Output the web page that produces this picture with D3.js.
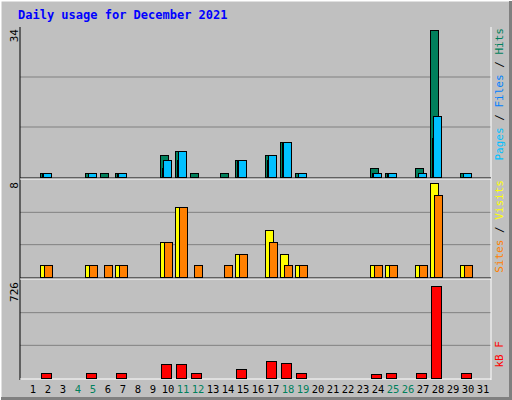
<!DOCTYPE html>
<html><head><meta charset="utf-8">
<script src="https://cdn.jsdelivr.net/npm/d3@7"></script>
<style>body{margin:0;background:#fff}</style>
</head><body><div id="chart"></div>
<script>
// Datos
const days = d3.range(1, 32)
const weekend = [4, 5, 11, 12, 18, 19, 25, 26]
const hits  = [0,1,0,0,1,1,1,0,0,5,6,1,0,1,4,0,5,8,1,0,0,0,0,2,1,0,2,34,0,1,0]
const files = [0,1,0,0,1,0,1,0,0,4,6,0,0,0,4,0,5,8,1,0,0,0,0,1,1,0,1,14,0,1,0]
const pages = [0,1,0,0,0,0,1,0,0,2,4,0,0,0,4,0,4,8,0,0,0,0,0,1,1,0,0,9,0,0,0]
const visits = [0,1,0,0,1,0,1,0,0,3,6,0,0,0,2,0,4,2,1,0,0,0,0,1,1,0,1,8,0,1,0]
const sites  = [0,1,0,0,1,1,1,0,0,3,6,1,0,1,2,0,3,1,1,0,0,0,0,1,1,0,1,7,0,1,0]
const kbytes = [0,37,0,0,37,1,37,0,0,104,104,37,0,1,67,0,133,118,37,0,0,0,0,30,37,0,37,700,0,37,0]

const W = 512, H = 400
const svg = d3.select("#chart").append("svg").attr("width", W).attr("height", H)
  .style("font-family", "DejaVu Sans Mono, monospace")

// marco 3d
svg.append("rect").attr("width", W).attr("height", H).attr("fill", "#c0c0c0")
svg.append("path").attr("d", `M0,${H} V0 H${W}`).attr("stroke", "#fff").attr("stroke-width", 3).attr("fill", "none")
svg.append("path").attr("d", `M1,${H-1} H${W-1} V1`).attr("stroke", "#808080").attr("stroke-width", 4).attr("fill", "none")

svg.append("text").attr("x", 18).attr("y", 19).attr("fill", "#0000ff")
  .style("font-size", "12px").style("font-weight", "bold").text("Daily usage for December 2021")

const x = d3.scaleLinear().domain([0, 1]).range([10, 25])
const left = 20, right = 491

const panels = [
  {top: 27, bottom: 177, max: 34, label: "34"},
  {top: 180, bottom: 277, max: 8, label: "8"},
  {top: 280, bottom: 378, max: 726, label: "726"}
]
panels.forEach(p => {
  p.y = d3.scaleLinear().domain([0, p.max]).range([p.bottom, p.top + 3])
  const g = svg.append("g")
  ;[1, 2].forEach(i => {
    const yy = p.bottom - (p.bottom - p.top) * i / 3
    g.append("line").attr("x1", left).attr("x2", right).attr("y1", yy).attr("y2", yy).attr("stroke", "#808080")
  })
  g.append("g").attr("transform", `translate(18,${p.top + 2})`)
    .append("text").attr("x", 0).attr("y", 0).attr("transform", "rotate(-90)")
    .attr("text-anchor", "end").style("font-size", "11px").text(p.label)
})
// bordes de paneles
svg.append("line").attr("x1", left).attr("x2", left).attr("y1", 27).attr("y2", 380).attr("stroke", "#000")
svg.append("line").attr("x1", right).attr("x2", right).attr("y1", 27).attr("y2", 380).attr("stroke", "#fff")
;[179, 279].forEach(yy => {
  svg.append("line").attr("x1", left).attr("x2", right).attr("y1", yy - 1).attr("y2", yy - 1).attr("stroke", "#000")
  svg.append("line").attr("x1", left).attr("x2", right).attr("y1", yy).attr("y2", yy).attr("stroke", "#fff")
})
svg.append("line").attr("x1", left).attr("x2", right).attr("y1", 379).attr("y2", 379).attr("stroke", "#fff")

function bars(arr, p, dx, w, color) {
  svg.append("g").selectAll("rect").data(days.filter(d => arr[d - 1] > 0)).join("rect")
    .attr("x", d => x(d) + dx + 0.5).attr("width", w)
    .attr("y", d => Math.round(p.y(arr[d - 1])) + 0.5)
    .attr("height", d => p.bottom - Math.round(p.y(arr[d - 1])))
    .attr("fill", color).attr("stroke", "#000")
}
bars(hits, panels[0], 0, 8, "#00805c")
bars(files, panels[0], 3, 8, "#00c0ff")
bars(pages, panels[0], 2, 1, "#0080ff")
bars(visits, panels[1], 0, 8, "#ffff00")
bars(sites, panels[1], 4, 8, "#ff8000")
bars(kbytes, panels[2], 1, 10, "#ff0000")

// etiquetas eje x
svg.append("g").selectAll("text").data(days).join("text")
  .attr("x", d => x(d) + 8).attr("y", 393).attr("text-anchor", "middle")
  .style("font-size", "10.5px")
  .attr("fill", d => weekend.includes(d) ? "#00805c" : "#000").text(d => d)

// leyendas verticales (leen de abajo hacia arriba)
function legend(y0, parts) {
  const t = svg.append("g").attr("transform", `translate(503,${y0})`)
    .append("text").attr("x", 0).attr("y", 0).attr("transform", "rotate(-90)")
    .attr("text-anchor", "end").style("font-size", "11px")
  parts.forEach(([s, c]) => t.append("tspan").attr("fill", c).text(s))
}
legend(28, [["Pages", "#00c0ff"], [" / ", "#000"], ["Files", "#0080ff"], [" / ", "#000"], ["Hits", "#00805c"]])
legend(180, [["Sites", "#ff8000"], [" / ", "#000"], ["Visits", "#ffff00"]])
legend(341, [["kB F", "#ff0000"]])
</script></body></html>
